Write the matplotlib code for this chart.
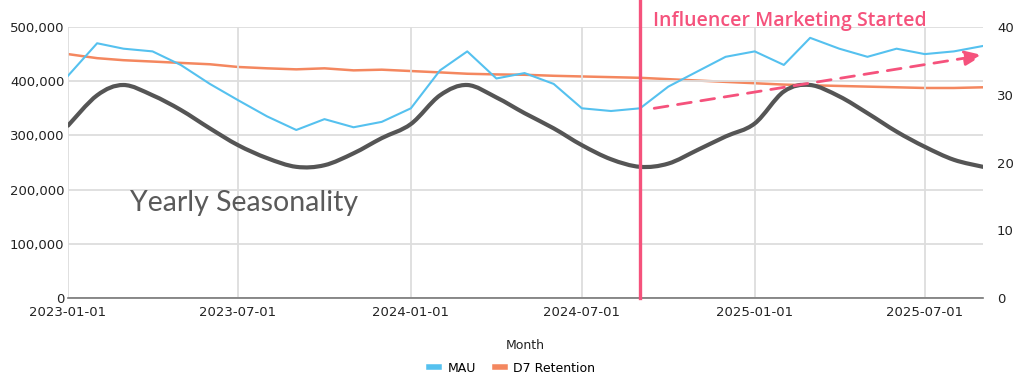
import matplotlib
matplotlib.use("Agg")
import matplotlib.pyplot as plt
import matplotlib.dates as mdates
from matplotlib.path import Path
from matplotlib.patches import PathPatch
import numpy as np
import pandas as pd

# ---- data ----
months = pd.date_range("2023-01-01", "2025-09-01", freq="MS")

mau = [410000, 470000, 460000, 455000, 430000, 395000, 365000, 335000, 310000,
       330000, 315000, 325000, 350000, 420000, 455000, 405000, 415000, 395000,
       350000, 345000, 350000, 390000, 418000, 445000, 455000, 430000, 480000,
       460000, 445000, 460000, 450000, 455000, 465000]

d7_retention = [36.0, 35.4, 35.1, 34.9, 34.7, 34.5, 34.1, 33.9, 33.75, 33.9, 33.6,
                33.7, 33.5, 33.3, 33.1, 33.0, 32.95, 32.8, 32.7, 32.6, 32.5, 32.3,
                32.1, 31.9, 31.7, 31.5, 31.4, 31.3, 31.2, 31.1, 31.0, 31.0, 31.1]

seasonality = [318000, 374000, 393000, 374000, 347000, 313000, 282000, 258000,
               242000, 245000, 267000, 295000, 321000, 374000, 393000, 370000,
               341000, 313000, 282000, 256000, 242000, 248000, 273000, 298000,
               322000, 381000, 393000, 372000, 341000, 307000, 279000, 255000, 242000]

event_date = "2024-09-01"
event_label = "Influencer Marketing Started"
trend_start = ("2024-09-16", 350000)
trend_end = ("2025-09-01", 448000)
season_label = "Yearly Seasonality"
season_label_pos = ("2023-03-08", 175000)

left_ticks = [0, 100000, 200000, 300000, 400000, 500000]
right_ticks = [0, 10, 20, 30, 40]
x_ticks = ["2023-01-01", "2023-07-01", "2024-01-01", "2024-07-01", "2025-01-01", "2025-07-01"]

# ---- style ----
BLUE = "#55c1ef"
ORANGE = "#f4875f"
GRAY = "#555555"
PINK = "#f5527c"
GRID = "#dddddd"

plt.rcParams["font.family"] = ["DejaVu Sans"]

fig = plt.figure(figsize=(10.24, 3.91), dpi=100)
ax = fig.add_axes([68/1024, 1-298/391, (983-68)/1024, (298-27)/391])
ax2 = ax.twinx()

ax.set_zorder(ax2.get_zorder() + 1)
ax.patch.set_visible(False)

ax.set_axisbelow(True)
ax.grid(True, color=GRID, linewidth=1.3)

# right axis: retention
ax2.plot(months, d7_retention, color=ORANGE, linewidth=1.8, label="D7 Retention")
ax2.set_ylim(0, 40)
ax2.set_yticks(right_ticks)

# smooth seasonality curve (Catmull-Rom through the read points, drawn as a Bezier path)
sx = mdates.date2num(months.to_pydatetime())
sy = np.asarray(seasonality, dtype=float)
pts = np.column_stack([sx, sy])
verts = [pts[0]]
codes = [Path.MOVETO]
n = len(pts)
for i in range(n - 1):
    p0 = pts[i - 1] if i > 0 else pts[i]
    p1 = pts[i]
    p2 = pts[i + 1]
    p3 = pts[i + 2] if i + 2 < n else pts[i + 1]
    c1 = p1 + (p2 - p0) / 6.0
    c2 = p2 - (p3 - p1) / 6.0
    verts += [c1, c2, p2]
    codes += [Path.CURVE4] * 3
ax.add_patch(PathPatch(Path(verts, codes), facecolor="none", edgecolor=GRAY,
                       linewidth=3.0, capstyle="round", joinstyle="round", zorder=3))

ax.plot(months, mau, color=BLUE, linewidth=1.5, label="MAU", zorder=4)
ax.set_ylim(0, 500000)
ax.set_yticks(left_ticks)
ax.yaxis.set_major_formatter(matplotlib.ticker.FuncFormatter(lambda v, p: f"{int(v):,}"))

ax.set_xlim(pd.Timestamp("2023-01-01"), pd.Timestamp("2025-09-01"))
ax.set_xticks(pd.to_datetime(x_ticks))
ax.xaxis.set_major_formatter(mdates.DateFormatter("%Y-%m-%d"))

for a in (ax, ax2):
    for s in ("top", "right", "left", "bottom"):
        a.spines[s].set_visible(False)
ax.spines["bottom"].set_visible(True)
ax.spines["bottom"].set_color("#777777")
ax.spines["bottom"].set_linewidth(1.2)

ax.tick_params(axis="x", length=0, labelsize=9.5, colors="#222222", pad=6)
ax.tick_params(axis="y", length=0, labelsize=9.5, colors="#222222", pad=2.5)
ax2.tick_params(axis="y", length=0, labelsize=9.5, colors="#222222", pad=10)

ax.set_xlabel("Month", fontsize=9, color="#222222", labelpad=14)

# event line
ax.axvline(pd.Timestamp(event_date), color=PINK, linewidth=2.4, zorder=5, clip_on=False,
           ymin=0, ymax=1.1)
ax.annotate(event_label, xy=(pd.Timestamp(event_date), 1.0),
            xycoords=("data", "axes fraction"), xytext=(9, 1), textcoords="offset points",
            color=PINK, fontsize=14, fontweight="semibold", family="Open Sans",
            ha="left", va="baseline", annotation_clip=False)

# trend arrow
ax.annotate("", xy=(pd.Timestamp(trend_end[0]), trend_end[1]),
            xytext=(pd.Timestamp(trend_start[0]), trend_start[1]),
            arrowprops=dict(arrowstyle="-|>,head_length=1.1,head_width=0.45",
                            color=PINK, linewidth=2, linestyle=(0, (5, 3.5)),
                            shrinkA=0, shrinkB=0), zorder=6)

ax.text(pd.Timestamp(season_label_pos[0]), season_label_pos[1], season_label,
        fontsize=20.5, color="#5a5a5a", family="Lato", ha="left", va="center")

# legend
h1, l1 = ax.get_legend_handles_labels()
h2, l2 = ax2.get_legend_handles_labels()
leg = fig.legend(h1 + h2, l1 + l2, loc="center", bbox_to_anchor=(512/1024, 1-368/391),
                 ncol=2, frameon=False, fontsize=9, handlelength=0.8, handletextpad=0.7,
                 columnspacing=1.5)
for line in leg.get_lines():
    line.set_linewidth(4)

fig.savefig("out.png", dpi=100)
